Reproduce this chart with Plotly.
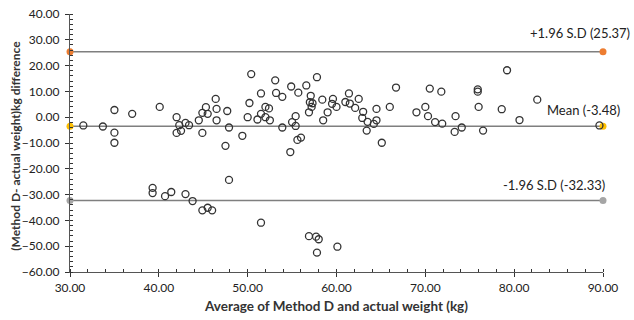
import plotly.graph_objects as go

x_avg = [31.5, 33.7, 35.0, 35.0, 35.0, 37.0, 40.1, 42.0, 42.0, 42.3, 42.5, 43.0, 43.4, 44.5, 44.9,
         44.9, 45.3, 45.5, 46.4, 46.5, 46.5, 47.7, 47.9, 47.5, 47.9, 49.4, 50.0, 50.2, 50.4, 51.1,
         51.5, 51.5, 52.0, 52.0, 52.4, 52.5, 53.1, 53.2, 53.9, 53.9, 54.8, 54.9, 55.0, 55.4, 55.4,
         55.7, 55.6, 56.0, 56.6, 57.0, 56.9, 57.1, 57.2, 57.3, 57.8, 58.4, 58.5, 59.0, 59.5, 59.6,
         60.0, 61.0, 61.4, 61.5, 62.1, 62.5, 62.9, 63.0, 63.5, 63.4, 64.2, 64.5, 64.5, 65.1, 66.0,
         66.7, 69.0, 70.0, 70.3, 70.5, 71.1, 71.9, 71.8, 73.3, 73.4, 74.1, 75.9, 75.9, 76.0, 76.5,
         78.6, 79.2, 80.6, 82.6, 89.6,
         39.3, 39.3, 40.7, 41.4, 43.0, 43.8, 44.9, 45.5, 46.0, 51.5, 56.9, 57.7, 58.0, 57.8, 60.1]
y_diff = [-3.2, -3.6, 2.8, -6.0, -9.9, 1.3, 4.0, 0.0, -6.1, -3.1, -5.3, -2.2, -3.1, -1.2, 1.7,
          -6.1, 3.9, 1.3, 7.1, 3.2, -1.2, 2.4, -4.0, -11.1, -24.3, -7.2, 0.0, 5.5, 16.7, -0.9,
          9.2, 1.3, 4.0, 0.0, 3.4, -1.2, 14.3, 9.4, 7.9, -4.0, -13.5, 11.9, -1.9, 0.4, -3.4,
          9.5, -8.8, -7.9, 12.3, 5.8, 1.9, 8.3, 4.0, 5.4, 15.5, 6.8, -1.2, 1.9, 5.2, 7.1,
          4.0, 5.9, 9.2, 5.3, 3.6, 7.1, -0.3, 2.1, -1.8, -5.2, -2.6, 3.2, -1.2, -9.9, 4.0,
          11.5, 1.9, 4.0, 0.4, 11.1, -1.9, -2.5, 9.9, -5.7, 0.4, -4.0, 10.8, 9.9, 4.0, -5.2,
          3.1, 18.2, -1.1, 6.8, -3.2,
          -27.4, -29.4, -30.6, -29.0, -29.8, -32.5, -36.1, -35.1, -36.1, -40.9, -46.1, -46.3, -47.3, -52.5, -50.2]

x_ends = [30, 90]
mean_diff = -3.48
upper_loa = 25.37
lower_loa = -32.33
line_labels = ["+1.96 S.D (25.37)", "Mean (-3.48)", "-1.96 S.D (-32.33)"]
x_ticks = [30, 40, 50, 60, 70, 80, 90]
y_ticks = [40, 30, 20, 10, 0, -10, -20, -30, -40, -50, -60]
x_title = "Average of Method D and actual weight (kg)"
y_title = "(Method D- actual weight)kg difference"

FONT = "Lato, 'Open Sans', sans-serif"

fig = go.Figure()

for val, col in [(upper_loa, "#ED7D31"), (mean_diff, "#FFC000"), (lower_loa, "#A5A5A5")]:
    fig.add_trace(go.Scatter(
        x=x_ends, y=[val, val], mode="lines+markers",
        line=dict(color="#7F7F7F", width=1.5),
        marker=dict(color=col, size=7),
        cliponaxis=False, showlegend=False, hoverinfo="skip"))

fig.add_trace(go.Scatter(
    x=x_avg, y=y_diff, mode="markers",
    marker=dict(symbol="circle-open", size=7, color="#333333", line=dict(width=1.3)),
    cliponaxis=False, showlegend=False))

# labels
label_font = dict(family=FONT, size=13, color="#222")
fig.add_annotation(x=1.054, y=upper_loa, xref="paper", yref="y", text=line_labels[0],
                   showarrow=False, xanchor="right", yanchor="middle", yshift=19,
                   font=label_font)
fig.add_annotation(x=1.036, y=mean_diff, xref="paper", yref="y", text=line_labels[1],
                   showarrow=False, xanchor="right", yanchor="middle", yshift=16,
                   font=label_font)
fig.add_annotation(x=1.0075, y=lower_loa, xref="paper", yref="y", text=line_labels[2],
                   showarrow=False, xanchor="right", yanchor="middle", yshift=16,
                   font=label_font)
# y-axis title
fig.add_annotation(x=-0.103, y=0.49, xref="paper", yref="paper", text="<b>" + y_title + "</b>",
                   textangle=-90, showarrow=False, xanchor="center", yanchor="middle",
                   font=dict(family=FONT, size=12, color="#333"))

fig.update_layout(
    width=634, height=320,
    margin=dict(l=70, r=31, t=14, b=48),
    paper_bgcolor="white", plot_bgcolor="white",
    font=dict(family=FONT, size=12, color="#222"),
    xaxis=dict(range=[30, 90], tickvals=x_ticks, tickformat=".2f", automargin=False,
               showgrid=False, zeroline=False, showline=True, linecolor="#555", linewidth=1.2,
               ticks="outside", ticklen=4, tickcolor="#333",
               minor=dict(ticks="inside", dtick=2, ticklen=3, tickcolor="#333"),
               title=dict(text="<b>" + x_title + "</b>",
                          font=dict(size=13.5, family=FONT, color="#333"), standoff=8)),
    yaxis=dict(range=[-60, 40], tickvals=y_ticks, tickformat=".2f", automargin=False,
               showgrid=False, zeroline=False, showline=True, linecolor="#555", linewidth=1.2,
               ticks="outside", ticklen=4, tickcolor="#333", ticklabelstandoff=3,
               minor=dict(ticks="inside", dtick=2, ticklen=3, tickcolor="#333")),
)

fig.write_html("out.html")
